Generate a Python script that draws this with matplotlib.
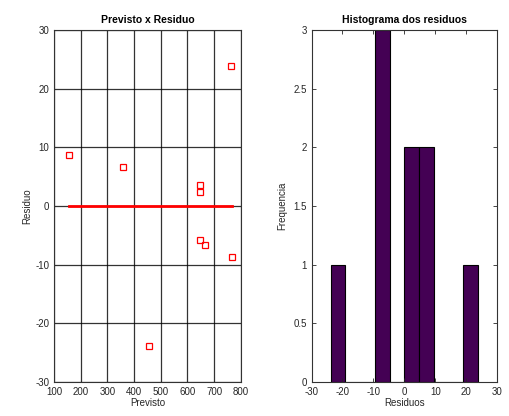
import numpy as np
import matplotlib
matplotlib.use("Agg")
import matplotlib.pyplot as plt

# valores previstos e residuos do modelo
previsto = [157, 360, 647, 647, 764, 649, 667, 766, 457]
residuo = [8.6, 6.6, 3.5, 2.4, 23.8, -5.8, -6.7, -8.7, -23.8]

xticks_esq = [100, 200, 300, 400, 500, 600, 700, 800]
yticks_esq = [-30, -20, -10, 0, 10, 20, 30]
xticks_dir = [-30, -20, -10, 0, 10, 20, 30]
yticks_dir = [0, 0.5, 1, 1.5, 2, 2.5, 3]

plt.rcParams['font.family'] = ['Liberation Sans', 'DejaVu Sans']
plt.rcParams['font.size'] = 7
plt.rcParams['axes.unicode_minus'] = False
txt = '#262626'

fig = plt.figure(figsize=(5.09, 4.16), dpi=100)

# --- residuos x previsto ---
ax1 = fig.add_axes([0.106, 0.082, 0.367, 0.846])
ax1.plot(previsto, residuo, 's', mfc='none', mec='red', ms=5, mew=0.9, zorder=3)
ax1.plot([min(previsto), max(previsto)], [0, 0], color='red', lw=2, zorder=2)
ax1.set_xlim(100, 800)
ax1.set_ylim(-30, 30)
ax1.set_xticks(xticks_esq)
ax1.set_yticks(yticks_esq)
ax1.grid(True, color='black', lw=0.9, alpha=0.8)
ax1.set_axisbelow(True)
ax1.tick_params(direction='in', length=0, colors=txt, labelsize=7)
ax1.set_title('Previsto x Residuo', fontsize=7.5, fontweight='bold', pad=5)
ax1.set_xlabel('Previsto', color=txt, labelpad=1)
ax1.set_ylabel('Residuo', color=txt, labelpad=2)
for s in ax1.spines.values():
    s.set_color('#333333')
    s.set_linewidth(0.8)

# --- histograma ---
ax2 = fig.add_axes([0.612, 0.082, 0.365, 0.846])
ax2.hist(residuo, bins=10, color='#440154', edgecolor='black', linewidth=0.8)
ax2.set_xlim(-30, 30)
ax2.set_ylim(0, 3)
ax2.set_xticks(xticks_dir)
ax2.set_yticks(yticks_dir)
ax2.set_yticklabels(['0', '0.5', '1', '1.5', '2', '2.5', '3'])
ax2.tick_params(direction='in', length=3, colors=txt, labelsize=7,
                top=True, right=True, width=0.6)
ax2.set_title('Histograma dos residuos', fontsize=7.5, fontweight='bold', pad=5)
ax2.set_xlabel('Residuos', color=txt, labelpad=1)
ax2.set_ylabel('Frequencia', color=txt, labelpad=4)
for s in ax2.spines.values():
    s.set_color('#333333')
    s.set_linewidth(0.8)

fig.savefig('out.png', dpi=100)
